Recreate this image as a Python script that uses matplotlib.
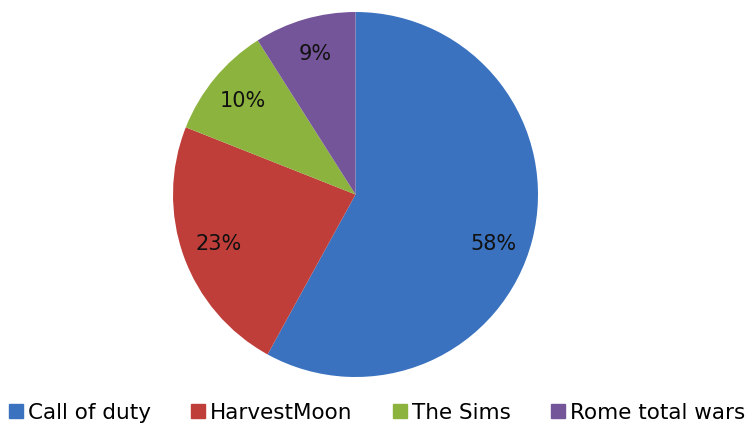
import matplotlib
matplotlib.use('Agg')
import matplotlib.pyplot as plt
from matplotlib.lines import Line2D

games = ['Call of duty', 'HarvestMoon', 'The Sims', 'Rome total wars']
shares = [58, 23, 10, 9]
colors = ['#3a72bf', '#bf3e3a', '#8db33f', '#75559a']

plt.rcParams['font.family'] = ['DejaVu Sans']

W, H = 753, 428
fig = plt.figure(figsize=(W / 100, H / 100), dpi=100)
cx, cy, r = 355.5, 194.5, 182.5
ax = fig.add_axes([(cx - r) / W, (H - cy - r) / H, 2 * r / W, 2 * r / H])

wedges, texts, autotexts = ax.pie(shares, colors=colors, startangle=90, counterclock=False,
                                  autopct='%d%%', pctdistance=0.8, radius=1,
                                  textprops={'fontsize': 15, 'color': '#111111'})
# excel pushes the big label a bit lower
x, y = autotexts[0].get_position()
autotexts[0].set_position((x - 0.02, y - 0.07))
ax.set_xlim(-1, 1)
ax.set_ylim(-1, 1)
ax.set_aspect('equal')
ax.axis('off')

handles = [Line2D([], [], marker='s', linestyle='none', markersize=9.5,
                  markerfacecolor=c, markeredgecolor=c) for c in colors]
fig.legend(handles, games, loc='center', bbox_to_anchor=(0.5, (H - 413) / H), ncol=4,
           frameon=False, fontsize=15.5, handletextpad=0.15, columnspacing=1.8,
           handlelength=0.8)

fig.savefig('out.png', dpi=100)
